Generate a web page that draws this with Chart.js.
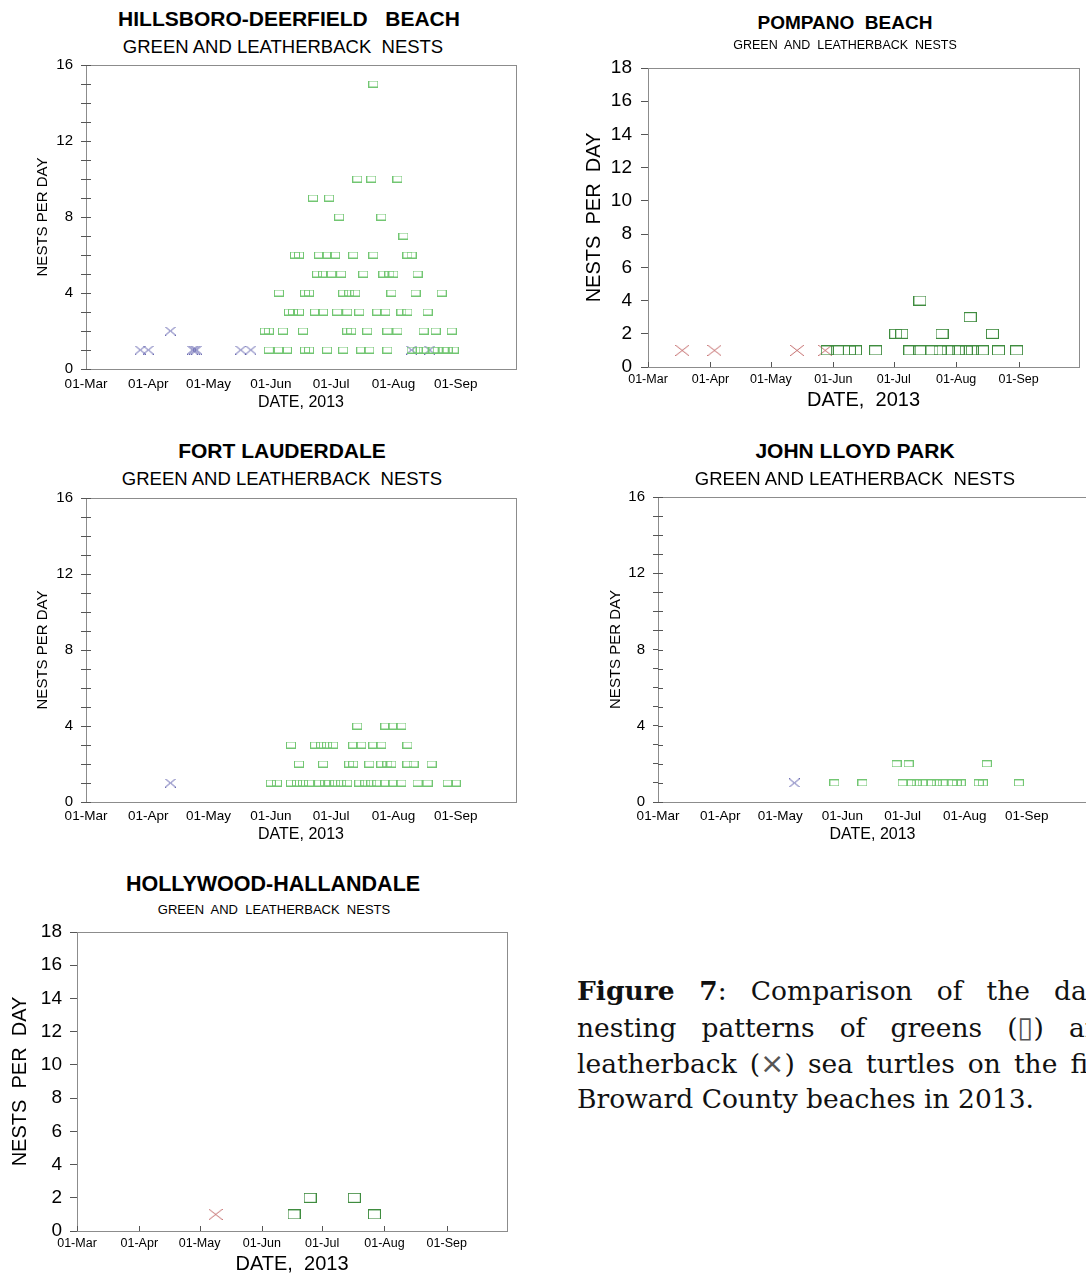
<!DOCTYPE html>
<html><head><meta charset="utf-8">
<script src="https://cdn.jsdelivr.net/npm/chart.js@4.4.1/dist/chart.umd.min.js"></script>
<style>
html,body{margin:0;padding:0;background:#fff;width:1086px;height:1280px;overflow:hidden;position:relative;}
.t{position:absolute;text-align:center;white-space:pre;font-family:'Liberation Sans',Arial,sans-serif;color:#000;}
.cap{position:absolute;left:577px;font-family:'DejaVu Serif',serif;color:#111;white-space:normal;}
.wrap{position:absolute;}
.sym{font-family:'DejaVu Sans',sans-serif;font-weight:normal;font-size:1.1em;color:#555;}
</style></head><body>
<script>
// ---------- DATA ----------
const monthTickDates = ["03-01","04-01","05-01","06-01","07-01","08-01","09-01"];
const monthTickLabels = ["01-Mar","01-Apr","01-May","01-Jun","01-Jul","01-Aug","01-Sep"];
const axisEndDate = "10-01";

// Hillsboro-Deerfield Beach
const hdGreenDates = [
 "07-22",
 "07-14","07-21","08-03",
 "06-22","06-30",
 "07-05","07-26",
 "08-06",
 "06-13","06-15","06-25","06-29","07-03","07-12","07-22","08-08","08-10",
 "06-24","06-27","07-01","07-06","07-17","07-27","07-30","08-01","08-13",
 "06-05","06-18","06-20","07-07","07-10","07-13","07-31","08-12","08-25",
 "06-10","06-12","06-15","06-23","06-27","07-04","07-09","07-15","07-24","07-28","08-05","08-08","08-18",
 "05-29","05-31","06-07","06-17","07-09","07-11","07-19","07-29","08-03","08-16","08-22","08-30",
 "05-31","06-05","06-09","06-18","06-20","06-29","07-07","07-16","07-20","07-29","08-10","08-13","08-16","08-21","08-23","08-26","08-28","08-31"
];
const hdGreenNests = [
 15,
 10,10,10,
 9,9,
 8,8,
 7,
 6,6,6,6,6,6,6,6,6,
 5,5,5,5,5,5,5,5,5,
 4,4,4,4,4,4,4,4,4,
 3,3,3,3,3,3,3,3,3,3,3,3,3,
 2,2,2,2,2,2,2,2,2,2,2,2,
 1,1,1,1,1,1,1,1,1,1,1,1,1,1,1,1,1,1
];
const hdLeatherDates = ["03-28","04-01","04-12","04-23","04-24","04-25","05-17","05-22","08-10","08-19"];
const hdLeatherNests = [1,1,2,1,1,1,1,1,1,1];

// Pompano Beach
const pbGreenDates = [
 "07-14",
 "08-08",
 "07-02","07-05","07-25","08-19",
 "05-29","06-03","06-09","06-12","06-22","07-09","07-14","07-20","07-24","07-28","08-02","08-06","08-09","08-14","08-22","08-31"
];
const pbGreenNests = [
 4,
 3,
 2,2,2,2,
 1,1,1,1,1,1,1,1,1,1,1,1,1,1,1,1
];
const pbLeatherDates = ["03-18","04-03","05-14","05-28"];
const pbLeatherNests = [1,1,1,1];

// Fort Lauderdale
const flGreenDates = [
 "07-14","07-28","08-01","08-05",
 "06-11","06-23","06-26","06-29","07-02","07-12","07-16","07-22","07-26","08-08",
 "06-15","06-27","07-10","07-12","07-20","07-26","07-29","07-31","08-08","08-11","08-20",
 "06-01","06-04","06-11","06-14","06-17","06-20","06-25","06-28","06-30","07-03","07-06","07-09","07-15","07-18","07-21","07-24","07-28","08-01","08-05","08-13","08-18","08-28","09-01"
];
const flGreenNests = [
 4,4,4,4,
 3,3,3,3,3,3,3,3,3,3,
 2,2,2,2,2,2,2,2,2,2,2,
 1,1,1,1,1,1,1,1,1,1,1,1,1,1,1,1,1,1,1,1,1,1,1
];
const flLeatherDates = ["04-12"];
const flLeatherNests = [1];

// John Lloyd Park
const jlGreenDates = [
 "06-28","07-04","08-12",
 "05-28","06-11","07-01","07-05","07-08","07-11","07-15","07-18","07-21","07-26","07-28","07-30","08-08","08-10","08-28"
];
const jlGreenNests = [
 2,2,2,
 1,1,1,1,1,1,1,1,1,1,1,1,1,1,1
];
const jlLeatherDates = ["05-08"];
const jlLeatherNests = [1];

// Hollywood-Hallandale
const hhGreenDates = ["06-17","06-25","07-17","07-27"];
const hhGreenNests = [1,2,2,1];
const hhLeatherDates = ["05-09"];
const hhLeatherNests = [1];

// ---------- HELPERS ----------
function dayOf(md){
  const [m,d] = md.split('-').map(Number);
  return (Date.UTC(2013,m-1,d) - Date.UTC(2013,2,1)) / 864e5;
}
function boxImg(w,h,color){
  const c=document.createElement('canvas'); c.width=w; c.height=h;
  const g=c.getContext('2d'); g.strokeStyle=color; g.lineWidth=1;
  g.strokeRect(0.5,0.5,w-1,h-1); return c;
}
function xImg(w,h,color){
  const c=document.createElement('canvas'); c.width=w; c.height=h;
  const g=c.getContext('2d'); g.strokeStyle=color; g.lineWidth=1;
  g.beginPath(); g.moveTo(0,0); g.lineTo(w,h); g.moveTo(w,0); g.lineTo(0,h); g.stroke(); return c;
}
function addText(txt,cx,cy,size,bold){
  const d=document.createElement('div'); d.className='t'; d.textContent=txt;
  d.style.left=(cx-400)+'px'; d.style.width='800px';
  d.style.top=(cy-size/2)+'px'; d.style.height=size+'px'; d.style.lineHeight=size+'px';
  d.style.fontSize=size+'px'; d.style.fontWeight=bold?'bold':'normal';
  document.body.appendChild(d);
}
const framePlugin = {
  id:'frame',
  beforeDatasetsDraw(chart,args,o){
    const {ctx,chartArea:a,scales}=chart;
    ctx.save();
    ctx.strokeStyle=o.color; ctx.lineWidth=1;
    ctx.strokeRect(Math.round(a.left)+0.5,Math.round(a.top)+0.5,Math.round(a.right-a.left),Math.round(a.bottom-a.top));
    ctx.strokeStyle=o.tickColor;
    ctx.beginPath();
    if(o.yInner){
      scales.y.ticks.forEach(t=>{
        const y=Math.round(scales.y.getPixelForValue(t.value))+0.5;
        ctx.moveTo(a.left,y); ctx.lineTo(a.left+o.yInner,y);
      });
    }
    if(o.xInner){
      scales.x.ticks.forEach(t=>{
        const x=Math.round(scales.x.getPixelForValue(t.value))+0.5;
        ctx.moveTo(x,a.bottom); ctx.lineTo(x,a.bottom-o.xInner);
      });
    }
    ctx.stroke();
    ctx.restore();
  }
};
Chart.defaults.font.family="'Liberation Sans', Arial, sans-serif";
Chart.defaults.color='#000';

function makePanel(p){
  const wrap=document.createElement('div'); wrap.className='wrap';
  wrap.style.left=p.cl+'px'; wrap.style.top=p.ct+'px';
  const cv=document.createElement('canvas'); cv.width=p.cw; cv.height=p.ch;
  cv.style.width=p.cw+'px'; cv.style.height=p.ch+'px';
  wrap.appendChild(cv); document.body.appendChild(wrap);
  const [pl,pt,pr,pb]=p.plot;
  const tickVals=monthTickDates.map(dayOf);
  new Chart(cv,{
    type:'scatter',
    data:{datasets:[
      {label:'Green',data:p.gD.map((d,i)=>({x:dayOf(d),y:p.gN[i]})),
       pointStyle:boxImg(p.bw,p.bh,p.gc),pointRadius:5,pointHoverRadius:5},
      {label:'Leatherback',data:p.lD.map((d,i)=>({x:dayOf(d),y:p.lN[i]})),
       pointStyle:xImg(p.xw,p.xh,p.lc),pointRadius:5,pointHoverRadius:5}
    ]},
    options:{
      responsive:false,animation:false,devicePixelRatio:1,
      layout:{padding:{left:0,top:pt-p.ct,right:p.cl+p.cw-pr,bottom:0}},
      plugins:{legend:{display:false},tooltip:{enabled:false},
        frame:{color:'#8c8c8c',tickColor:'#555',yInner:p.yInner,xInner:p.xInner}},
      scales:{
        x:{type:'linear',min:0,max:dayOf(axisEndDate),
          afterBuildTicks:s=>{s.ticks=tickVals.map(v=>({value:v}));},
          afterFit:s=>{s.height=p.ct+p.ch-pb;},
          border:{display:false},
          grid:{display:false,drawTicks:false},
          ticks:{autoSkip:false,maxRotation:0,padding:p.xPad,font:{size:p.xFs},
            callback:v=>{const i=tickVals.indexOf(v);return i>=0?monthTickLabels[i]:'';}},
          title:{display:true,text:p.xTitle,font:{size:p.xtFs},padding:{top:0,bottom:p.xtPb}}
        },
        y:{type:'linear',min:0,max:p.yMax,
          afterBuildTicks:s=>{const t=[];for(let v=0;v<=p.yMax;v+=p.yStep)t.push({value:v});s.ticks=t;},
          afterFit:s=>{s.width=pl-p.cl;},
          border:{display:false},
          grid:{drawOnChartArea:false,drawTicks:true,tickLength:p.yTl,color:'#555'},
          ticks:{autoSkip:false,padding:p.yPad,font:{size:p.yFs},
            callback:v=>(v%p.yLab===0?String(v):'')},
          title:{display:true,text:p.yTitle,font:{size:p.ytFs},padding:{top:p.ytPt,bottom:0}}
        }
      }
    },
    plugins:[framePlugin]
  });
}

const lightGreen='#72c672', darkGreen='#3f8c3f', blueX='#5a5aaa', redX='#c46c6c';

// Panel 1
addText('HILLSBORO-DEERFIELD   BEACH',289,18,21,true);
addText('GREEN AND LEATHERBACK  NESTS',283,47,18.5,false);
makePanel({cl:0,ct:35,cw:530,ch:385,plot:[86,65,516,369],
  gD:hdGreenDates,gN:hdGreenNests,lD:hdLeatherDates,lN:hdLeatherNests,
  gc:lightGreen,lc:blueX,bw:10,bh:7,xw:11,xh:9,
  yMax:16,yStep:1,yLab:4,yTl:5,yPad:8,yFs:15,yInner:5,xInner:0,
  xPad:7,xFs:13.5,xTitle:'DATE, 2013',xtFs:16,xtPb:8,
  yTitle:'NESTS PER DAY',ytFs:15,ytPt:34});

// Panel 2
addText('POMPANO  BEACH',845,22,19,true);
addText('GREEN  AND  LEATHERBACK  NESTS',845,45,12.5,false);
makePanel({cl:575,ct:38,cw:511,ch:387,plot:[648,68,1079,367],
  gD:pbGreenDates,gN:pbGreenNests,lD:pbLeatherDates,lN:pbLeatherNests,
  gc:darkGreen,lc:redX,bw:13,bh:10,xw:14,xh:11,
  yMax:18,yStep:2,yLab:2,yTl:7,yPad:9,yFs:19,yInner:0,xInner:5,
  xPad:5.5,xFs:12.5,xTitle:'DATE,  2013',xtFs:20,xtPb:13,
  yTitle:'NESTS  PER  DAY',ytFs:20,ytPt:7});

// Panel 3
addText('FORT LAUDERDALE',282,450,21,true);
addText('GREEN AND LEATHERBACK  NESTS',282,479,18.5,false);
makePanel({cl:0,ct:468,cw:530,ch:385,plot:[86,498,516,802],
  gD:flGreenDates,gN:flGreenNests,lD:flLeatherDates,lN:flLeatherNests,
  gc:lightGreen,lc:blueX,bw:10,bh:7,xw:11,xh:9,
  yMax:16,yStep:1,yLab:4,yTl:5,yPad:8,yFs:15,yInner:5,xInner:0,
  xPad:6,xFs:13.5,xTitle:'DATE, 2013',xtFs:16,xtPb:9,
  yTitle:'NESTS PER DAY',ytFs:15,ytPt:34});

// Panel 4
addText('JOHN LLOYD PARK',855,450,21,true);
addText('GREEN AND LEATHERBACK  NESTS',855,479,18.5,false);
makePanel({cl:600,ct:467,cw:500,ch:386,plot:[658,497,1087,802],
  gD:jlGreenDates,gN:jlGreenNests,lD:jlLeatherDates,lN:jlLeatherNests,
  gc:lightGreen,lc:blueX,bw:10,bh:7,xw:11,xh:9,
  yMax:16,yStep:1,yLab:4,yTl:5,yPad:8,yFs:15,yInner:5,xInner:0,
  xPad:6,xFs:13.5,xTitle:'DATE, 2013',xtFs:16,xtPb:9,
  yTitle:'NESTS PER DAY',ytFs:15,ytPt:7});

// Panel 5
addText('HOLLYWOOD-HALLANDALE',273,885,21.5,true);
addText('GREEN  AND  LEATHERBACK  NESTS',274,909,13,false);
makePanel({cl:0,ct:902,cw:520,ch:378,plot:[77,932,507,1231],
  gD:hhGreenDates,gN:hhGreenNests,lD:hhLeatherDates,lN:hhLeatherNests,
  gc:darkGreen,lc:redX,bw:13,bh:10,xw:14,xh:11,
  yMax:18,yStep:2,yLab:2,yTl:7,yPad:8,yFs:19,yInner:0,xInner:5,
  xPad:5.5,xFs:12.5,xTitle:'DATE,  2013',xtFs:20,xtPb:4,
  yTitle:'NESTS  PER  DAY',ytFs:20,ytPt:8});

// Caption
(function(){
  const lines=['<b>Figure 7</b>: Comparison of the daily','nesting patterns of greens (<span class="sym">\u25AF</span>) and','leatherback (<span class="sym">\u00D7</span>) sea turtles on the five','Broward County beaches in 2013.'];
  const m=document.createElement('canvas').getContext('2d');
  m.font='22px "DejaVu Serif"';
  const w4=m.measureText('Broward County beaches in 2013.').width;
  const fs=22*457/w4;
  m.font=fs+'px "DejaVu Serif"';
  const W=m.measureText('leatherback (\u00D7) sea turtles on the five').width+30;
  const base=1000;
  lines.forEach((h,i)=>{
    const d=document.createElement('div'); d.className='cap'; d.innerHTML=h;
    d.style.fontSize=fs+'px'; d.style.lineHeight='36px'; d.style.height='36px';
    d.style.width=W+'px';
    d.style.top=(base+i*36-18-0.346*fs)+'px';
    d.style.textAlign=i<3?'justify':'left';
    d.style.textAlignLast=i<3?'justify':'left';
    document.body.appendChild(d);
  });
})();
</script>
</body></html>
